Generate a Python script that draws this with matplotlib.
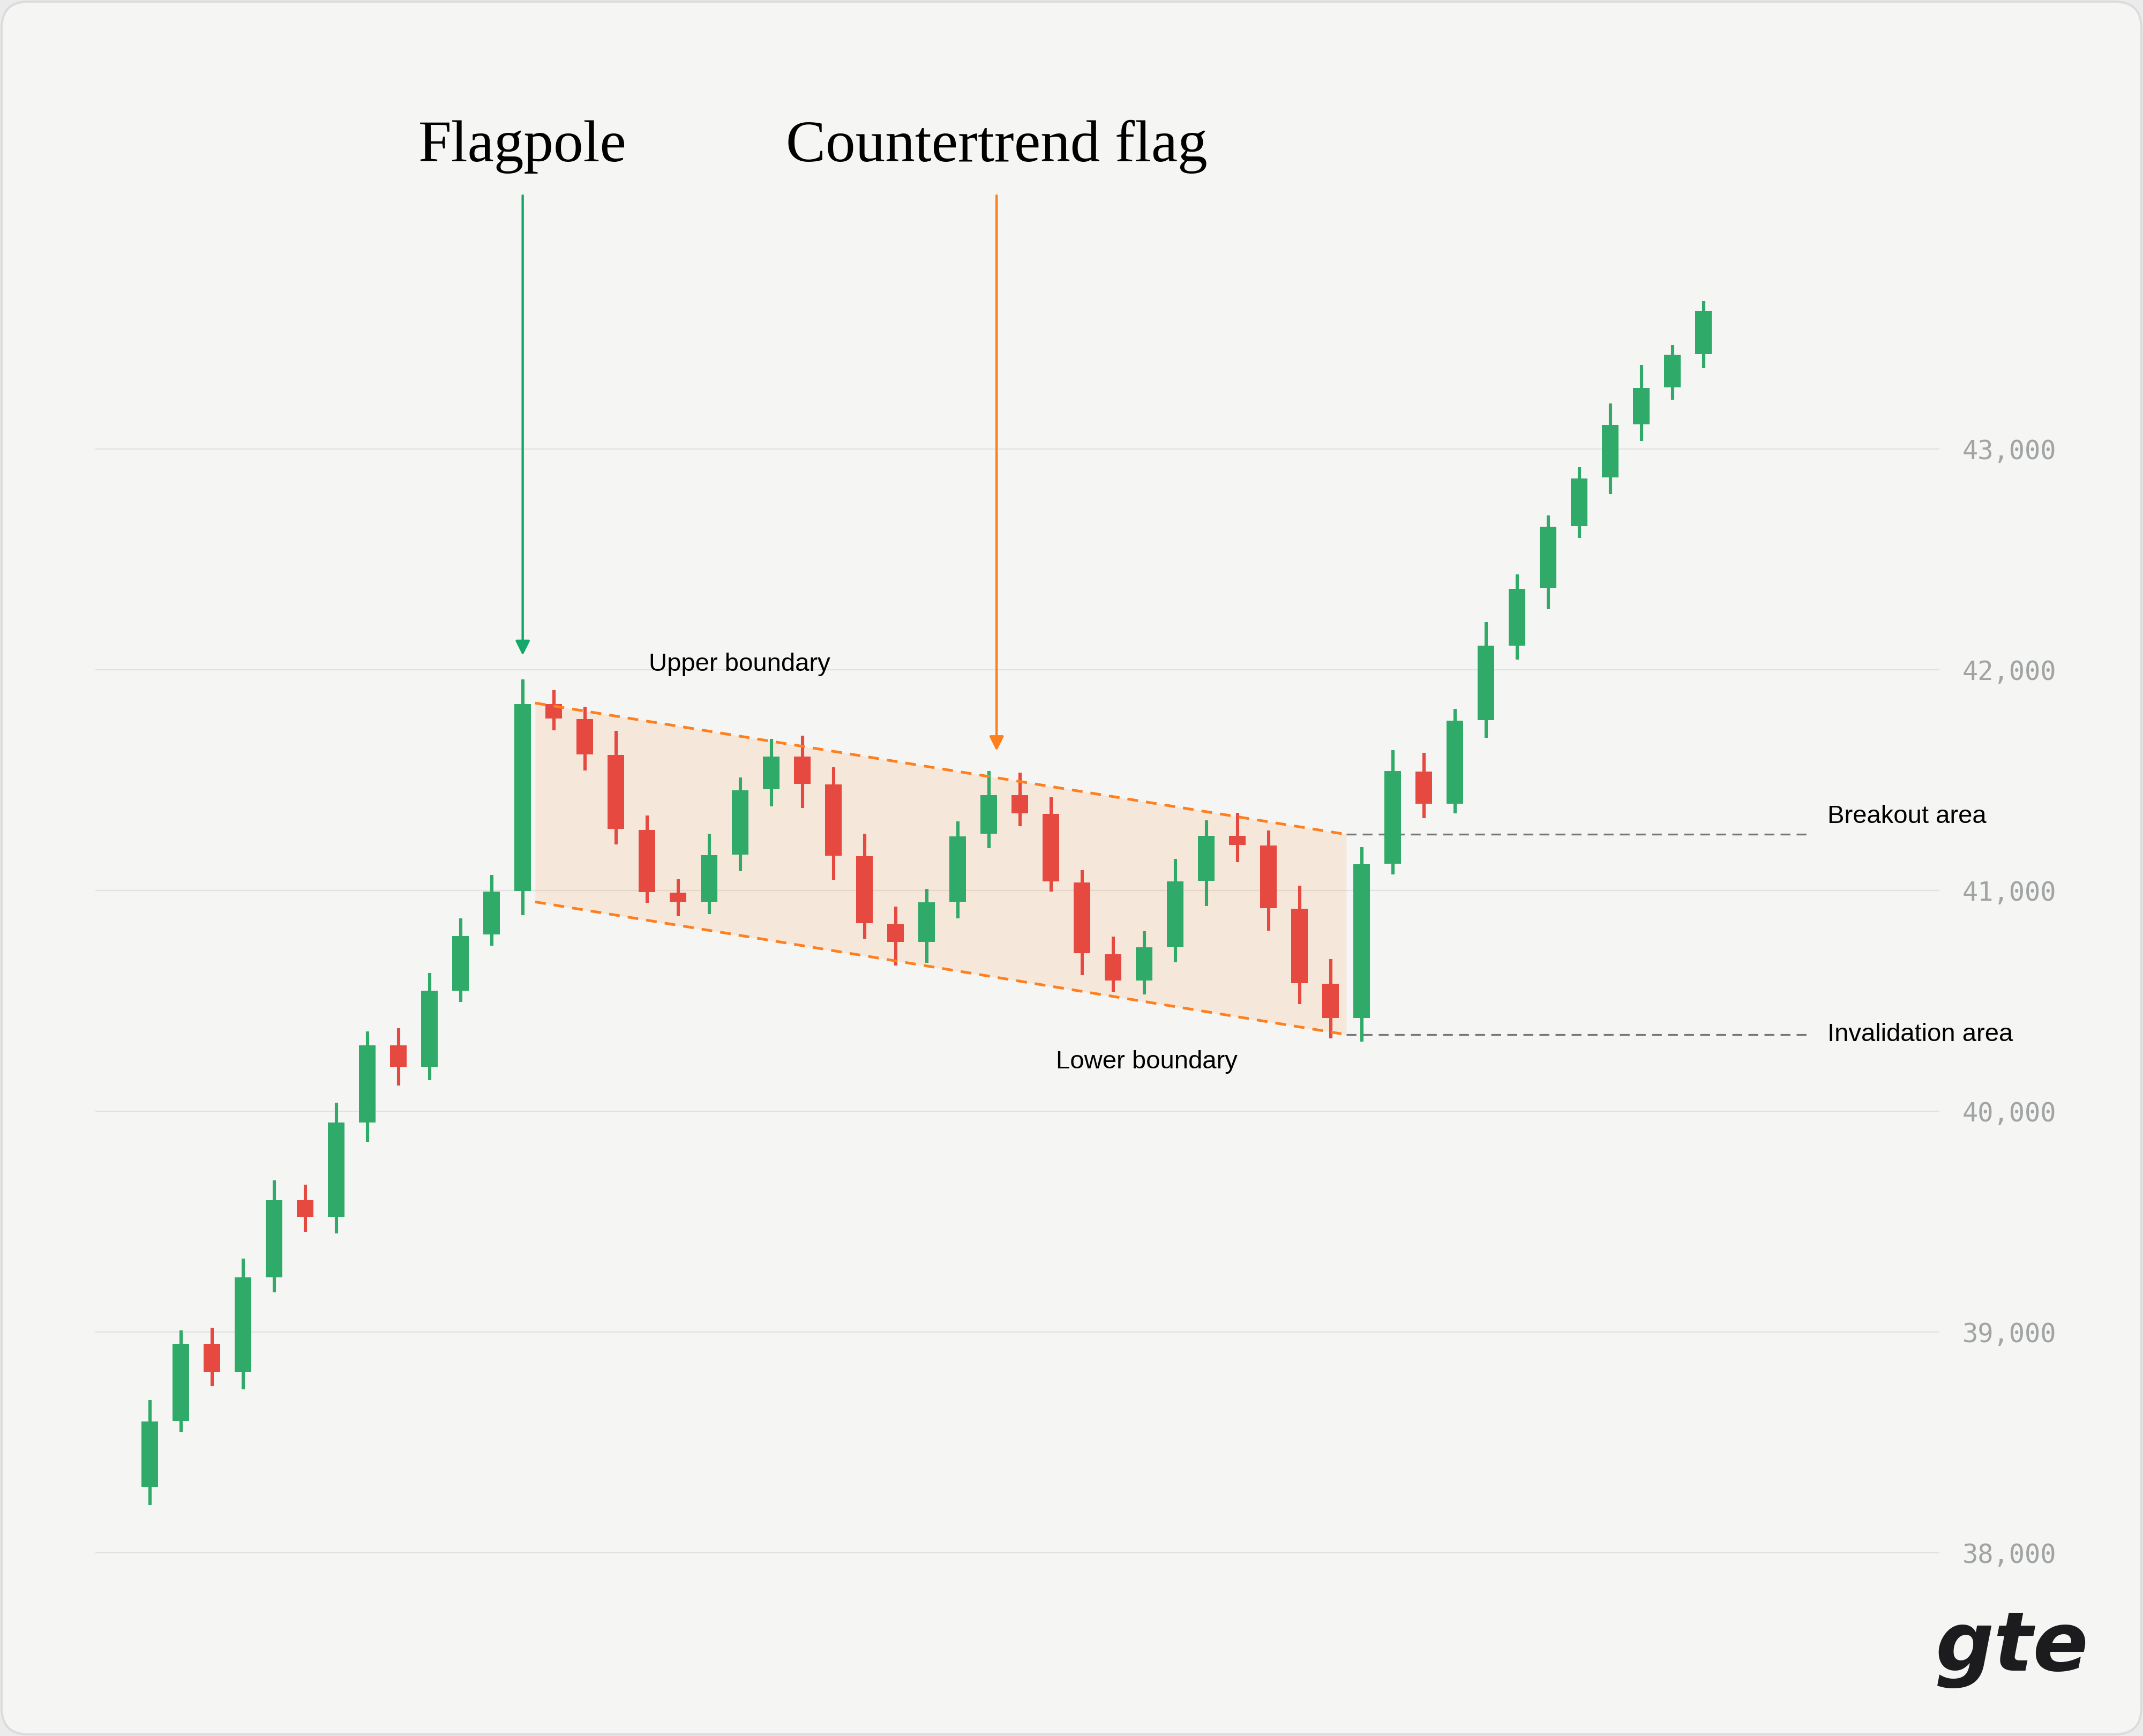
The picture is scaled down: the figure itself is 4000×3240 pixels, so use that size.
import numpy as np
import matplotlib.pyplot as plt
from matplotlib.patches import FancyBboxPatch
from matplotlib.transforms import IdentityTransform

# Candles
opens = [38297, 38596, 38946, 38817, 39248, 39596, 39521, 39948, 40299, 40202,
         40545, 40800, 40998, 41845, 41777, 41613, 41275, 40991, 40948, 41162,
         41459, 41606, 41480, 41154, 40847, 40766, 40948, 41256, 41432, 41346,
         41036, 40712, 40593, 40745, 41043, 41248, 41204, 40916, 40577, 40421,
         41121, 41538, 41392, 41772, 42110, 42371, 42651, 42870, 43111, 43280,
         43430]
highs = [38691, 39006, 39018, 39332, 39686, 39668, 40038, 40361, 40375, 40625,
         40873, 41070, 41957, 41907, 41833, 41723, 41340, 41051, 41258, 41511,
         41686, 41700, 41559, 41256, 40926, 41008, 41312, 41540, 41533, 41421,
         41093, 40792, 40815, 41143, 41318, 41352, 41271, 41022, 40688, 41196,
         41636, 41623, 41822, 42217, 42432, 42700, 42918, 43206, 43380, 43471,
         43670]
lows = [38216, 38545, 38754, 38739, 39179, 39454, 39446, 39860, 40115, 40140,
        40495, 40750, 40889, 41726, 41544, 41209, 40944, 40884, 40894, 41087,
        41380, 41374, 41048, 40780, 40661, 40673, 40874, 41191, 41291, 40995,
        40615, 40541, 40528, 40674, 40930, 41128, 40818, 40484, 40329, 40314,
        41073, 41327, 41349, 41692, 42046, 42275, 42597, 42796, 43037, 43223,
        43366]
closes = [38594, 38946, 38817, 39246, 39596, 39521, 39948, 40299, 40202, 40545,
          40793, 40996, 41845, 41780, 41616, 41278, 40993, 40948, 41159, 41454,
          41606, 41483, 41158, 40851, 40766, 40946, 41246, 41432, 41350, 41041,
          40715, 40593, 40742, 41040, 41248, 41207, 40919, 40580, 40421, 41119,
          41540, 41392, 41768, 42108, 42367, 42648, 42867, 43108, 43277, 43427,
          43627]

price_ticks = [38000, 39000, 40000, 41000, 42000, 43000]
tick_labels = ['38,000', '39,000', '40,000', '41,000', '42,000', '43,000']

# Flag channel (candle index, price)
channel_x = [12.4, 38.5]
upper_boundary = [41849, 41254]
lower_boundary = [40948, 40347]
level_end_x = 53.45

flagpole_x = 12
flag_x = 27.25
arrow_start = 44148
flagpole_tip = 42065
flag_tip = 41632

GREEN = '#2faa68'
RED = '#e5493f'
ORANGE = '#ff7f1e'

fig = plt.figure(figsize=(20, 16.2), dpi=200, facecolor='#ebebeb')

# rounded card behind everything
card = FancyBboxPatch((3, 3), 3994, 3234, boxstyle='round,pad=0,rounding_size=50',
                      transform=IdentityTransform(), facecolor='#f5f5f3',
                      edgecolor='#dcdcdc', linewidth=1.5, zorder=-1)
fig.add_artist(card)

ax = fig.add_axes([0.0446, 0.0741, 0.8604, 0.9259])
ax.set_facecolor('none')
ax.set_xlim(-1.745, 57.59)
ax.set_ylim(37752, 45034)

# candles
x = np.arange(len(opens))
o = np.array(opens)
c = np.array(closes)
colors = [GREEN if cc >= oo else RED for oo, cc in zip(o, c)]
ax.vlines(x, lows, highs, colors=colors, linewidth=2.2, zorder=3)
ax.bar(x, np.abs(c - o), bottom=np.minimum(o, c), width=0.54, color=colors, zorder=3)

# channel
ax.fill_between(channel_x, lower_boundary, upper_boundary, color='#ff8a3d',
                alpha=0.13, linewidth=0, zorder=1)
ax.plot(channel_x, upper_boundary, color=ORANGE, lw=1.8, dashes=(4, 3), zorder=4)
ax.plot(channel_x, lower_boundary, color=ORANGE, lw=1.8, dashes=(4, 3), zorder=4)

# breakout / invalidation levels
ax.plot([channel_x[1], level_end_x], [upper_boundary[1]] * 2, color='#777777',
        lw=1.2, dashes=(5.5, 3.5), zorder=2)
ax.plot([channel_x[1], level_end_x], [lower_boundary[1]] * 2, color='#777777',
        lw=1.2, dashes=(5.5, 3.5), zorder=2)

label_font = dict(fontsize=17, family='Liberation Sans', color='black')
ax.text(18.97, 42025, 'Upper boundary', ha='center', va='center', **label_font)
ax.text(32.08, 40223, 'Lower boundary', ha='center', va='center', **label_font)
ax.text(53.99, 41335, 'Breakout area', ha='left', va='center', **label_font)
ax.text(53.99, 40346, 'Invalidation area', ha='left', va='center', **label_font)

# titles with arrows
title_font = dict(fontsize=40, family='Liberation Serif', color='black')
ax.text(flagpole_x, 44303, 'Flagpole', ha='center', va='baseline', **title_font)
ax.text(flag_x, 44303, 'Countertrend flag', ha='center', va='baseline', **title_font)
ax.annotate('', xy=(flagpole_x, flagpole_tip), xytext=(flagpole_x, arrow_start),
            arrowprops=dict(arrowstyle='-|>', color='#16a86b', lw=1.6,
                            mutation_scale=20, shrinkA=0, shrinkB=0))
ax.annotate('', xy=(flag_x, flag_tip), xytext=(flag_x, arrow_start),
            arrowprops=dict(arrowstyle='-|>', color=ORANGE, lw=1.6,
                            mutation_scale=20, shrinkA=0, shrinkB=0))

# axis styling
ax.set_xticks([])
ax.set_yticks(price_ticks)
ax.set_yticklabels(tick_labels, family='DejaVu Sans Mono')
ax.yaxis.tick_right()
ax.tick_params(axis='y', length=0, pad=15.5, labelsize=17.5, labelcolor='#a0a4a4')
ax.grid(axis='y', color='#e2e2e0', linewidth=0.8)
ax.set_axisbelow(True)
for s in ax.spines.values():
    s.set_visible(False)

# logo
fig.text(0.9389, 0.0506, 'gte', ha='center', va='center', fontsize=55,
         fontweight='heavy', fontstyle='italic', color='#1c1c1e', family='DejaVu Sans')

fig.savefig('out.png', dpi=200, facecolor=fig.get_facecolor())
